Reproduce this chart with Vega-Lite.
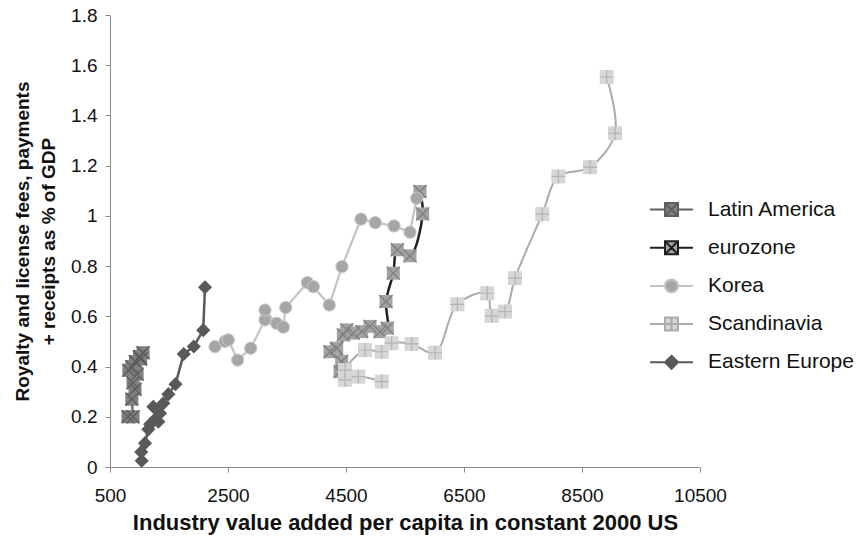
{
  "$schema": "https://vega.github.io/schema/vega-lite/v6.json",
  "width": 590,
  "height": 452,
  "autosize": {"type": "none"},
  "padding": {"left": 110, "top": 15, "right": 160, "bottom": 75},
  "background": "white",
  "config": {"view": {"stroke": null}, "font": "Liberation Sans"},
  "datasets": {
    "la": [
      {"s": "Latin America", "x": 805, "y": 0.2},
      {"s": "Latin America", "x": 890, "y": 0.2},
      {"s": "Latin America", "x": 870, "y": 0.27},
      {"s": "Latin America", "x": 924, "y": 0.31},
      {"s": "Latin America", "x": 890, "y": 0.335},
      {"s": "Latin America", "x": 960, "y": 0.37},
      {"s": "Latin America", "x": 820, "y": 0.385},
      {"s": "Latin America", "x": 870, "y": 0.4},
      {"s": "Latin America", "x": 930, "y": 0.42},
      {"s": "Latin America", "x": 1000, "y": 0.44},
      {"s": "Latin America", "x": 1060, "y": 0.455},
      {"s": "Latin America", "x": 1020, "y": 0.43}
    ],
    "ez": [
      {"s": "eurozone", "x": 4229, "y": 0.459},
      {"s": "eurozone", "x": 4342, "y": 0.473},
      {"s": "eurozone", "x": 4426, "y": 0.42},
      {"s": "eurozone", "x": 4398, "y": 0.38},
      {"s": "eurozone", "x": 4455, "y": 0.526},
      {"s": "eurozone", "x": 4512, "y": 0.546},
      {"s": "eurozone", "x": 4624, "y": 0.533},
      {"s": "eurozone", "x": 4766, "y": 0.539},
      {"s": "eurozone", "x": 4907, "y": 0.56},
      {"s": "eurozone", "x": 5076, "y": 0.539},
      {"s": "eurozone", "x": 5200, "y": 0.553},
      {"s": "eurozone", "x": 5178, "y": 0.659},
      {"s": "eurozone", "x": 5302, "y": 0.772},
      {"s": "eurozone", "x": 5369, "y": 0.865},
      {"s": "eurozone", "x": 5585, "y": 0.841},
      {"s": "eurozone", "x": 5799, "y": 1.008},
      {"s": "eurozone", "x": 5754, "y": 1.097}
    ],
    "ko": [
      {"s": "Korea", "x": 2280, "y": 0.479},
      {"s": "Korea", "x": 2450, "y": 0.5},
      {"s": "Korea", "x": 2505, "y": 0.506},
      {"s": "Korea", "x": 2664, "y": 0.426},
      {"s": "Korea", "x": 2885, "y": 0.473},
      {"s": "Korea", "x": 3127, "y": 0.586},
      {"s": "Korea", "x": 3127, "y": 0.625},
      {"s": "Korea", "x": 3325, "y": 0.572},
      {"s": "Korea", "x": 3438, "y": 0.557},
      {"s": "Korea", "x": 3478, "y": 0.635},
      {"s": "Korea", "x": 3845, "y": 0.734},
      {"s": "Korea", "x": 3947, "y": 0.718},
      {"s": "Korea", "x": 4217, "y": 0.645},
      {"s": "Korea", "x": 4432, "y": 0.798},
      {"s": "Korea", "x": 4754, "y": 0.987},
      {"s": "Korea", "x": 4997, "y": 0.973},
      {"s": "Korea", "x": 5314, "y": 0.96},
      {"s": "Korea", "x": 5585, "y": 0.935},
      {"s": "Korea", "x": 5698, "y": 1.07}
    ],
    "sc": [
      {"s": "Scandinavia", "x": 5105, "y": 0.34},
      {"s": "Scandinavia", "x": 4709, "y": 0.36},
      {"s": "Scandinavia", "x": 4483, "y": 0.347},
      {"s": "Scandinavia", "x": 4483, "y": 0.386},
      {"s": "Scandinavia", "x": 4822, "y": 0.466},
      {"s": "Scandinavia", "x": 5105, "y": 0.459},
      {"s": "Scandinavia", "x": 5274, "y": 0.493},
      {"s": "Scandinavia", "x": 5613, "y": 0.49},
      {"s": "Scandinavia", "x": 6009, "y": 0.455},
      {"s": "Scandinavia", "x": 6387, "y": 0.648},
      {"s": "Scandinavia", "x": 6894, "y": 0.692},
      {"s": "Scandinavia", "x": 6970, "y": 0.602},
      {"s": "Scandinavia", "x": 7195, "y": 0.619},
      {"s": "Scandinavia", "x": 7365, "y": 0.752},
      {"s": "Scandinavia", "x": 7826, "y": 1.007},
      {"s": "Scandinavia", "x": 8099, "y": 1.157},
      {"s": "Scandinavia", "x": 8636, "y": 1.194},
      {"s": "Scandinavia", "x": 9060, "y": 1.329},
      {"s": "Scandinavia", "x": 8919, "y": 1.553}
    ],
    "ee": [
      {"s": "Eastern Europe", "x": 1037, "y": 0.025},
      {"s": "Eastern Europe", "x": 1030, "y": 0.06},
      {"s": "Eastern Europe", "x": 1093, "y": 0.095},
      {"s": "Eastern Europe", "x": 1150, "y": 0.15},
      {"s": "Eastern Europe", "x": 1180, "y": 0.17},
      {"s": "Eastern Europe", "x": 1263, "y": 0.19},
      {"s": "Eastern Europe", "x": 1319, "y": 0.18},
      {"s": "Eastern Europe", "x": 1348, "y": 0.214},
      {"s": "Eastern Europe", "x": 1234, "y": 0.24},
      {"s": "Eastern Europe", "x": 1404, "y": 0.254},
      {"s": "Eastern Europe", "x": 1490, "y": 0.29},
      {"s": "Eastern Europe", "x": 1610, "y": 0.33},
      {"s": "Eastern Europe", "x": 1750, "y": 0.45},
      {"s": "Eastern Europe", "x": 1920, "y": 0.48},
      {"s": "Eastern Europe", "x": 2080, "y": 0.545},
      {"s": "Eastern Europe", "x": 2110, "y": 0.716}
    ]
  },
  "encoding": {
    "x": {
      "field": "x", "type": "quantitative",
      "scale": {"domain": [500, 10500], "nice": false, "zero": false},
      "axis": {
        "values": [500, 2500, 4500, 6500, 8500, 10500],
        "format": "d", "grid": false, "labelFlush": false,
        "domainColor": "#8a8a8a", "tickColor": "#8a8a8a", "tickSize": 5,
        "labelFontSize": 19, "labelColor": "#111111", "labelPadding": 14,
        "title": "Industry value added per capita in constant 2000 US",
        "titleFontSize": 22, "titleFontWeight": "bold", "titleColor": "#111111", "titlePadding": 7
      }
    },
    "y": {
      "field": "y", "type": "quantitative",
      "scale": {"domain": [0, 1.8], "nice": false, "zero": true},
      "axis": {
        "values": [0, 0.2, 0.4, 0.6, 0.8, 1, 1.2, 1.4, 1.6, 1.8],
        "format": "~g", "grid": false,
        "domainColor": "#8a8a8a", "tickColor": "#8a8a8a", "tickSize": 5,
        "labelFontSize": 19, "labelColor": "#111111", "labelPadding": 8,
        "title": ["Royalty and license fees, payments", "+ receipts as % of GDP"],
        "titleFontSize": 19, "titleFontWeight": "bold", "titleColor": "#111111",
        "titlePadding": 12, "titleLineHeight": 26
      }
    }
  },
  "layer": [
    {
      "data": {"name": "la"},
      "mark": {"type": "line", "strokeWidth": 2.25},
      "encoding": {
        "order": {"value": null},
        "stroke": {
          "field": "s", "type": "nominal",
          "scale": {
            "domain": ["Latin America", "eurozone", "Korea", "Scandinavia", "Eastern Europe"],
            "range": ["#5f5f5f", "#1f1f1f", "#c4c4c4", "#ababab", "#595959"]
          },
          "legend": {
            "title": null, "orient": "none", "legendX": 536, "legendY": 184,
            "symbolSize": 169, "symbolOffset": 15, "labelOffset": 26,
            "labelFontSize": 21, "labelColor": "#111111", "rowPadding": 16.2, "padding": 0,
            "symbolStrokeWidth": 2,
            "encode": {
              "symbols": {
                "update": {
                  "shape": {"signal": "datum.value === 'Korea' ? 'M-3.3,0L-1,0M1,0L3.3,0M1,0A1,1,0,1,1,-1,0A1,1,0,1,1,1,0Z' : datum.value === 'Scandinavia' ? 'M-3.3,0L3.3,0M-1,-1L1,-1L1,1L-1,1ZM0,-1L0,1' : datum.value === 'Eastern Europe' ? 'M-3.3,0L-1,0M1,0L3.3,0M0,-1L1,0L0,1L-1,0Z' : 'M-3.3,0L-1,0M1,0L3.3,0M-1,-1L1,-1L1,1L-1,1ZM-1,-1L1,1M1,-1L-1,1'"},
                  "fill": {"signal": "datum.value === 'Latin America' ? '#808080' : datum.value === 'eurozone' ? '#a3a3a3' : datum.value === 'Korea' ? '#a6a6a6' : datum.value === 'Scandinavia' ? '#d6d6d6' : '#595959'"},
                  "strokeWidth": {"value": 2}
                }
              }
            }
          }
        }
      }
    },
    {
      "data": {"name": "la"},
      "mark": {"type": "point", "shape": "square", "filled": true, "size": 169, "fill": "#808080", "opacity": 1}
    },
    {
      "data": {"name": "la"},
      "mark": {"type": "point", "shape": "M-1,-1L1,1M1,-1L-1,1", "filled": false, "size": 169, "stroke": "#5a5a5a", "strokeWidth": 1.2, "opacity": 1}
    },
    {
      "data": {"name": "ez"},
      "mark": {"type": "line", "strokeWidth": 2.5, "interpolate": "catmull-rom"},
      "encoding": {"order": {"value": null}, "stroke": {"field": "s", "type": "nominal"}}
    },
    {
      "data": {"name": "ez"},
      "mark": {"type": "point", "shape": "square", "filled": true, "size": 169, "fill": "#a3a3a3", "opacity": 1}
    },
    {
      "data": {"name": "ez"},
      "mark": {"type": "point", "shape": "M-1,-1L1,1M1,-1L-1,1", "filled": false, "size": 169, "stroke": "#7d7d7d", "strokeWidth": 1.2, "opacity": 1}
    },
    {
      "data": {"name": "ko"},
      "mark": {"type": "line", "strokeWidth": 2.25},
      "encoding": {"order": {"value": null}, "stroke": {"field": "s", "type": "nominal"}}
    },
    {
      "data": {"name": "ko"},
      "mark": {"type": "point", "shape": "circle", "filled": true, "size": 150, "fill": "#a6a6a6", "stroke": "#c8c8c8", "strokeWidth": 1, "opacity": 1}
    },
    {
      "data": {"name": "sc"},
      "mark": {"type": "line", "strokeWidth": 2, "interpolate": "catmull-rom"},
      "encoding": {"order": {"value": null}, "stroke": {"field": "s", "type": "nominal"}}
    },
    {
      "data": {"name": "sc"},
      "mark": {"type": "point", "shape": "square", "filled": true, "size": 196, "fill": "#d6d6d6", "opacity": 1}
    },
    {
      "data": {"name": "sc"},
      "mark": {"type": "point", "shape": "M0,-1L0,1M-1,0L1,0", "filled": false, "size": 196, "stroke": "#b3b3b3", "strokeWidth": 1.2, "opacity": 1}
    },
    {
      "data": {"name": "ee"},
      "mark": {"type": "line", "strokeWidth": 2.5},
      "encoding": {"order": {"value": null}, "stroke": {"field": "s", "type": "nominal"}}
    },
    {
      "data": {"name": "ee"},
      "mark": {"type": "point", "shape": "diamond", "filled": true, "size": 200, "fill": "#595959", "opacity": 1}
    }
  ]
}
